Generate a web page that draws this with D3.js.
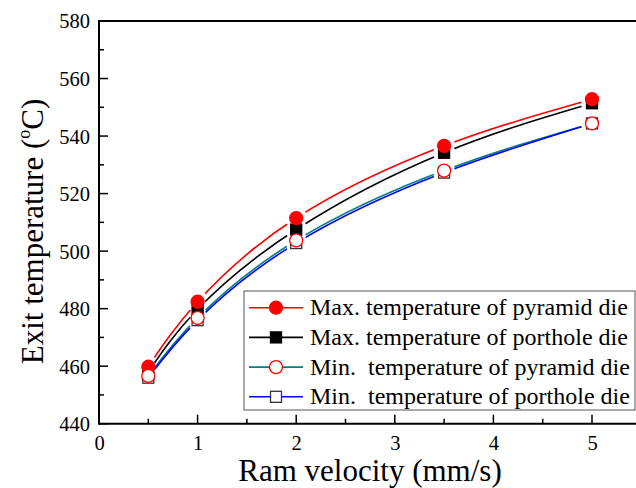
<!DOCTYPE html>
<html><head><meta charset="utf-8">
<script src="https://cdn.jsdelivr.net/npm/d3@7"></script>
<style>body{margin:0;background:#fff}svg{display:block}text{font-family:"Liberation Serif","Times New Roman",serif}</style>
</head><body>
<script>
const velocity = [0.5, 1, 2, 3.5, 5];
const maxPyramid = [459.8, 482.4, 511.5, 536.6, 552.8];
const maxPorthole = [458.0, 479.8, 507.5, 534.2, 551.4];
const minPyramid = [456.6, 476.8, 503.7, 528.0, 544.4];
const minPorthole = [456.0, 476.0, 502.8, 527.3, 544.4];
const xTicks = [0, 1, 2, 3, 4, 5];
const yTicks = [440, 460, 480, 500, 520, 540, 560, 580];
const seriesNames = ["Max. temperature of pyramid die", "Max. temperature of porthole die", "Min.  temperature of pyramid die", "Min.  temperature of porthole die"];

const W = 636, H = 488;
const svg = d3.select("body").append("svg").attr("width", W).attr("height", H);
const x = d3.scaleLinear().domain([0, 5.5]).range([99, 641.3]);
const y = d3.scaleLinear().domain([440, 580]).range([423.7, 21]);

const series = [
  {name: seriesNames[0], vals: maxPyramid, color: "#ff0000", marker: "circle", fill: "#ff0000", stroke: "#ff0000"},
  {name: seriesNames[1], vals: maxPorthole, color: "#000000", marker: "square", fill: "#000000", stroke: "#000000"},
  {name: seriesNames[2], vals: minPyramid, color: "#008080", marker: "circle", fill: "#ffffff", stroke: "#ff0000"},
  {name: seriesNames[3], vals: minPorthole, color: "#0000ff", marker: "square", fill: "#ffffff", stroke: "#333333"}
];

const defs = svg.append("defs");
series.forEach((s, i) => {
  const m = defs.append("mask").attr("id", "m" + i).attr("maskUnits", "userSpaceOnUse")
    .attr("x", 0).attr("y", 0).attr("width", W).attr("height", H);
  m.append("rect").attr("width", W).attr("height", H).attr("fill", "#fff");
  velocity.forEach((v, j) => m.append("circle").attr("cx", x(v)).attr("cy", y(s.vals[j])).attr("r", 11).attr("fill", "#000"));
});

// lines
const line = d3.line().x(d => x(d[0])).y(d => y(d[1])).curve(d3.curveNatural);
series.forEach((s, i) => {
  svg.append("path").datum(velocity.map((v, j) => [v, s.vals[j]]))
    .attr("d", line).attr("fill", "none").attr("stroke", s.color).attr("stroke-width", 1.6)
    .attr("mask", `url(#m${i})`);
});

function drawMarker(g, type, cx, cy, fill, stroke, size) {
  if (type === "circle") {
    g.append("circle").attr("cx", cx).attr("cy", cy).attr("r", size / 2)
      .attr("fill", fill).attr("stroke", stroke).attr("stroke-width", 1.3);
  } else {
    g.append("rect").attr("x", cx - size / 2).attr("y", cy - size / 2).attr("width", size).attr("height", size)
      .attr("fill", fill).attr("stroke", stroke).attr("stroke-width", 1.3);
  }
}

// markers, draw order
const order = [1, 0, 3, 2];
order.forEach(i => {
  const s = series[i];
  const g = svg.append("g");
  velocity.forEach((v, j) => drawMarker(g, s.marker, x(v), y(s.vals[j]), s.fill, s.stroke, s.marker === "circle" ? 13 : 11));
});

// axes with library, labels styled
const yAxis = d3.axisLeft(y).tickValues(yTicks).tickSize(0).tickPadding(9).tickFormat(d3.format("d"));
const gy = svg.append("g").attr("transform", "translate(99,0)").call(yAxis)
  .attr("font-family", "Liberation Serif").attr("font-size", 20.5);
gy.select(".domain").remove();
gy.selectAll("text").attr("fill", "#000").attr("dy", "0.34em");
const xAxis = d3.axisBottom(x).tickValues(xTicks).tickSize(0).tickPadding(12).tickFormat(d3.format("d"));
const gx = svg.append("g").attr("transform", "translate(0,423.7)").call(xAxis)
  .attr("font-family", "Liberation Serif").attr("font-size", 20.5);
gx.select(".domain").remove();
gx.selectAll("text").attr("fill", "#000").attr("y", 26).attr("dy", 0);

// inward ticks
d3.range(440, 581, 10).forEach(v => {
  const major = v % 20 === 0;
  svg.append("line").attr("x1", 99).attr("x2", 99 + (major ? 9 : 5)).attr("y1", y(v)).attr("y2", y(v))
    .attr("stroke", "#000").attr("stroke-width", 1.5);
});
d3.range(0, 5.51, 0.5).forEach(v => {
  const major = Math.abs(v - Math.round(v)) < 1e-6;
  svg.append("line").attr("x1", x(v)).attr("x2", x(v)).attr("y1", 423.7).attr("y2", 423.7 - (major ? 9 : 5))
    .attr("stroke", "#000").attr("stroke-width", 1.5);
});
// frame
svg.append("line").attr("x1", 99).attr("x2", W).attr("y1", 423.7).attr("y2", 423.7).attr("stroke", "#000").attr("stroke-width", 2);
svg.append("line").attr("x1", 99).attr("x2", W).attr("y1", 21).attr("y2", 21).attr("stroke", "#000").attr("stroke-width", 2);
svg.append("line").attr("x1", 99).attr("x2", 99).attr("y1", 20).attr("y2", 424.7).attr("stroke", "#000").attr("stroke-width", 2);

// axis titles
svg.append("text").attr("x", 370).attr("y", 480.5).attr("text-anchor", "middle").attr("font-size", 31).text("Ram velocity (mm/s)");
const yt = svg.append("text").attr("transform", "translate(43,231.5) rotate(-90)").attr("text-anchor", "middle").attr("font-size", 31);
yt.append("tspan").text("Exit temperature (");
yt.append("tspan").attr("font-size", 18).attr("dy", -13).text("o");
yt.append("tspan").attr("dy", 13).text("C)");

// legend
const lg = svg.append("g");
lg.append("rect").attr("x", 244).attr("y", 291).attr("width", 391).attr("height", 119)
  .attr("fill", "#fff").attr("stroke", "#555").attr("stroke-width", 1);
series.forEach((s, i) => {
  const ry = 307.7 + i * 29.7;
  lg.append("line").attr("x1", 249).attr("x2", 303).attr("y1", ry).attr("y2", ry).attr("stroke", s.color).attr("stroke-width", 1.6);
  drawMarker(lg, s.marker, 276, ry, s.fill, s.stroke, s.marker === "circle" ? 13 : 11);
  lg.append("text").attr("x", 310).attr("y", ry + 7.5).attr("font-size", 24).style("white-space", "pre").text(s.name);
});
</script>
</body></html>
